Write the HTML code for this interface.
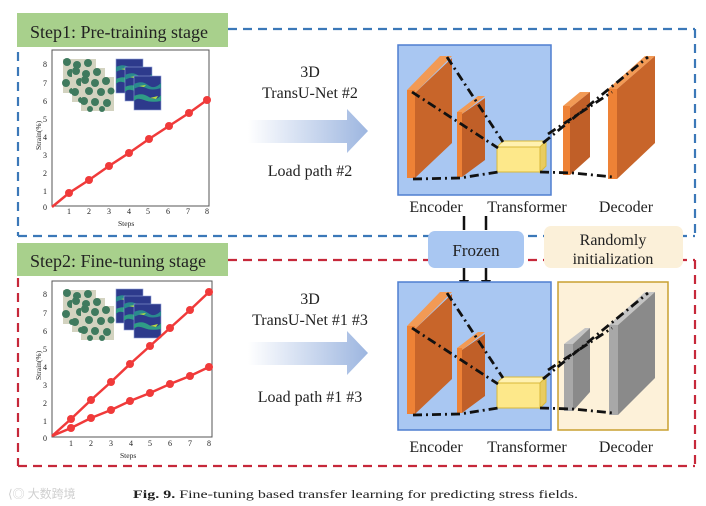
<!DOCTYPE html>
<html><head><meta charset="utf-8"><style>
html,body{margin:0;padding:0;background:#fff;width:706px;height:506px;overflow:hidden}
svg{display:block}
text{font-family:"Liberation Serif",serif;fill:#222}
</style></head><body>
<svg width="706" height="506" viewBox="0 0 706 506" xmlns="http://www.w3.org/2000/svg">
<defs>
<linearGradient id="ag" x1="0" x2="1" y1="0" y2="0">
<stop offset="0" stop-color="#ffffff"/><stop offset="1" stop-color="#9db6e0"/></linearGradient>
<g id="mat">
 <rect x="0" y="0" width="33" height="34" fill="#d3d3c0"/>
 <g fill="#3f7a5e">
 <circle cx="4" cy="3" r="4"/><circle cx="14" cy="6" r="4"/><circle cx="25" cy="4" r="4"/><circle cx="8" cy="14" r="4"/><circle cx="20" cy="15" r="4"/><circle cx="30" cy="14" r="3.5"/><circle cx="3" cy="24" r="4"/><circle cx="14" cy="25" r="4"/><circle cx="26" cy="26" r="4"/><circle cx="9" cy="32" r="3"/><circle cx="21" cy="32" r="3"/>
 </g>
</g>
<g id="fld">
 <rect x="0" y="0" width="27" height="34" fill="#2d3a8c" stroke="#8fa0d8" stroke-width="0.6"/>
 <path d="M0 8 Q8 4 14 9 T27 7 L27 12 Q18 15 12 12 T0 13Z" fill="#2a8a8e"/>
 <path d="M0 20 Q8 16 15 21 T27 19 L27 25 Q17 27 10 24 T0 25Z" fill="#2f9c86"/>
 <path d="M5 10 L12 9 L10 11Z M16 22 L24 20 L22 23Z" fill="#b8df40"/>
</g>
<g id="slabO">
 <polygon points="407,90 440,56 452,56 415,93" fill="#f29a55"/>
 <polygon points="415,93 452,58 452,143 415,178" fill="#c8652a"/>
 <rect x="407" y="90" width="8" height="88" fill="#ee8236"/>
 <polygon points="457,112 478,96 485,96 462,114" fill="#f29a55"/>
 <polygon points="462,114 485,98 485,160 462,177" fill="#c05f28"/>
 <rect x="457" y="112" width="5" height="65" fill="#ee8236"/>
</g>
<g id="trans">
 <polygon points="497,147 503,141 546,141 540,147" fill="#fff1b0" stroke="#d9b93a" stroke-width="1"/>
 <rect x="497" y="147" width="43" height="25" fill="#fde88a" stroke="#d9b93a" stroke-width="1"/>
 <polygon points="540,147 546,141 546,166 540,172" fill="#e8cc60" stroke="#d9b93a" stroke-width="1"/>
</g>
<g id="lines" stroke="#111" stroke-width="2.8" fill="none" stroke-dasharray="9,4,2,4">
 <line x1="447" y1="57" x2="503" y2="142"/>
 <line x1="412" y1="92" x2="498" y2="148"/>
 <polyline points="413,179 460,178 498,172"/>
 <line x1="543" y1="143" x2="648" y2="57"/>
 <line x1="548" y1="134" x2="612" y2="92"/>
 <polyline points="540,172 573,173 613,177"/>
</g>
</defs>

<g stroke="#3b78b8" stroke-width="2.2" fill="none" stroke-dasharray="9,6">
 <line x1="228" y1="29" x2="695" y2="29"/>
 <line x1="695" y1="29" x2="695" y2="236"/>
 <line x1="18" y1="236" x2="695" y2="236"/>
 <line x1="18" y1="52" x2="18" y2="236"/>
</g>
<rect x="17" y="13" width="211" height="34" fill="#a8d08c"/>
<text x="30" y="38" font-size="18">Step1: Pre-training stage</text>

<g stroke="#c6283a" stroke-width="2.2" fill="none" stroke-dasharray="9,6">
 <line x1="228" y1="260" x2="695" y2="260"/>
 <line x1="695" y1="260" x2="695" y2="466"/>
 <line x1="18" y1="466" x2="695" y2="466"/>
 <line x1="18" y1="278" x2="18" y2="466"/>
</g>
<rect x="17" y="243" width="211" height="33" fill="#a8d08c"/>
<text x="30" y="267" font-size="18">Step2: Fine-tuning stage</text>

<rect x="52" y="50" width="157" height="156" fill="#fff" stroke="#555" stroke-width="1"/>
<g font-size="8">
 <text x="43" y="210">0</text><text x="43" y="194">1</text><text x="43" y="176">2</text><text x="43" y="158">3</text><text x="43" y="140">4</text><text x="43" y="122">5</text><text x="43" y="104">6</text><text x="43" y="86">7</text><text x="43" y="67">8</text>
 <text x="67" y="214">1</text><text x="87" y="214">2</text><text x="107" y="214">3</text><text x="127" y="214">4</text><text x="146" y="214">5</text><text x="166" y="214">6</text><text x="186" y="214">7</text><text x="205" y="214">8</text>
 <text x="118" y="226" font-size="7.5">Steps</text>
 <text transform="translate(41,150) rotate(-90)" font-size="7.5">Strain(%)</text>
</g>
<use href="#mat" x="63" y="59"/><use href="#mat" x="72" y="68"/><use href="#mat" x="81" y="77"/>
<use href="#fld" x="116" y="59"/><use href="#fld" x="125" y="67"/><use href="#fld" x="134" y="76"/>
<polyline points="52,207 69,193 89,180 109,166 129,153 149,139 169,126 189,113 207,100" fill="none" stroke="#f03a3a" stroke-width="2.5"/>
<g fill="#f03a3a"><circle cx="69" cy="193" r="4"/><circle cx="89" cy="180" r="4"/><circle cx="109" cy="166" r="4"/><circle cx="129" cy="153" r="4"/><circle cx="149" cy="139" r="4"/><circle cx="169" cy="126" r="4"/><circle cx="189" cy="113" r="4"/><circle cx="207" cy="100" r="4"/></g>

<rect x="52" y="281" width="160" height="156" fill="#fff" stroke="#555" stroke-width="1"/>
<g font-size="8">
 <text x="43" y="441">0</text><text x="43" y="424">1</text><text x="43" y="406">2</text><text x="43" y="388">3</text><text x="43" y="370">4</text><text x="43" y="352">5</text><text x="43" y="334">6</text><text x="43" y="316">7</text><text x="43" y="297">8</text>
 <text x="69" y="446">1</text><text x="89" y="446">2</text><text x="109" y="446">3</text><text x="129" y="446">4</text><text x="148" y="446">5</text><text x="168" y="446">6</text><text x="188" y="446">7</text><text x="207" y="446">8</text>
 <text x="120" y="458" font-size="7.5">Steps</text>
 <text transform="translate(41,380) rotate(-90)" font-size="7.5">Strain(%)</text>
</g>
<use href="#mat" x="63" y="290"/><use href="#mat" x="72" y="298"/><use href="#mat" x="81" y="306"/>
<use href="#fld" x="116" y="289"/><use href="#fld" x="124" y="296"/><use href="#fld" x="134" y="304"/>
<g fill="none" stroke="#f03a3a" stroke-width="2.5">
<polyline points="52,436 71,419 91,400 111,382 130,364 150,346 170,328 190,310 209,292"/>
<polyline points="52,436 71,428 91,418 111,410 130,401 150,393 170,384 190,376 209,367"/>
</g>
<g fill="#f03a3a">
<circle cx="71" cy="419" r="4"/><circle cx="91" cy="400" r="4"/><circle cx="111" cy="382" r="4"/><circle cx="130" cy="364" r="4"/><circle cx="150" cy="346" r="4"/><circle cx="170" cy="328" r="4"/><circle cx="190" cy="310" r="4"/><circle cx="209" cy="292" r="4"/>
<circle cx="71" cy="428" r="4"/><circle cx="91" cy="418" r="4"/><circle cx="111" cy="410" r="4"/><circle cx="130" cy="401" r="4"/><circle cx="150" cy="393" r="4"/><circle cx="170" cy="384" r="4"/><circle cx="190" cy="376" r="4"/><circle cx="209" cy="367" r="4"/>
</g>

<polygon points="248,120 347,120 347,109 368,131 347,153 347,143 248,143" fill="url(#ag)"/>
<polygon points="248,342 347,342 347,331 368,353 347,375 347,365 248,365" fill="url(#ag)"/>
<g font-size="16" text-anchor="middle">
<text x="310" y="77">3D</text><text x="310" y="98">TransU-Net #2</text><text x="310" y="176">Load path #2</text>
<text x="310" y="304">3D</text><text x="310" y="325">TransU-Net #1 #3</text><text x="310" y="402">Load path #1 #3</text>
</g>

<rect x="398" y="45" width="153" height="150" fill="#a9c7f2" stroke="#4f7fd0" stroke-width="1.5"/>
<use href="#slabO"/>
<use href="#trans"/>
<polygon points="563,106 580,92 590,92 570,108" fill="#f29a55"/>
<polygon points="570,108 590,92 590,157 570,175" fill="#c05f28"/>
<rect x="563" y="106" width="7" height="69" fill="#ee8236"/>
<polygon points="608,89 645,56 655,56 617,89" fill="#f29a55"/>
<polygon points="617,89 655,56 655,143 617,179" fill="#c8652a"/>
<rect x="608" y="89" width="9" height="90" fill="#ee8236"/>
<use href="#lines"/>
<g font-size="16" text-anchor="middle">
<text x="436" y="212">Encoder</text><text x="527" y="212">Transformer</text><text x="626" y="212">Decoder</text>
</g>

<g stroke="#111" stroke-width="2.5">
<line x1="464" y1="216" x2="464" y2="230"/><line x1="486" y1="216" x2="486" y2="230"/>
<line x1="464" y1="268" x2="464" y2="282"/><line x1="486" y1="268" x2="486" y2="282"/>
</g>
<polygon points="459,280 469,280 464,290" fill="#111"/><polygon points="481,280 491,280 486,290" fill="#111"/>
<rect x="428" y="231" width="96" height="37" rx="7" fill="#a9c7f2"/>
<text x="476" y="256" font-size="17" text-anchor="middle">Frozen</text>
<rect x="544" y="226" width="139" height="42" rx="7" fill="#fbf0d9"/>
<text x="613" y="245" font-size="16" text-anchor="middle">Randomly</text>
<text x="613" y="264" font-size="16" text-anchor="middle">initialization</text>

<rect x="398" y="282" width="153" height="148" fill="#a9c7f2" stroke="#4f7fd0" stroke-width="1.5"/>
<rect x="558" y="282" width="110" height="148" fill="#fdf1d9" stroke="#c9a030" stroke-width="1.5"/>
<g transform="translate(0,236)"><use href="#slabO"/><use href="#trans"/></g>
<polygon points="564,344 585,328 590,328 573,344" fill="#c4c4c4"/>
<polygon points="573,344 590,328 590,392 573,411" fill="#8a8a8a"/>
<rect x="564" y="344" width="9" height="67" fill="#a8a8a8"/>
<polygon points="609,325 645,292 655,292 618,325" fill="#c4c4c4"/>
<polygon points="618,325 655,292 655,378 618,415" fill="#8a8a8a"/>
<rect x="609" y="325" width="9" height="90" fill="#a8a8a8"/>
<g transform="translate(0,236)"><use href="#lines"/></g>
<g font-size="16" text-anchor="middle">
<text x="436" y="452">Encoder</text><text x="527" y="452">Transformer</text><text x="626" y="452">Decoder</text>
</g>

<text x="8" y="498" font-size="12" style="fill:#cfcfcf" font-family="'Liberation Sans','Noto Sans CJK SC',sans-serif">⟨◎ 大数跨境</text>
<text x="133" y="498" font-size="12" font-family="'DejaVu Serif',serif" textLength="445" lengthAdjust="spacingAndGlyphs"><tspan font-weight="bold">Fig. 9.</tspan> Fine-tuning based transfer learning for predicting stress fields.</text>
</svg>
</body></html>
